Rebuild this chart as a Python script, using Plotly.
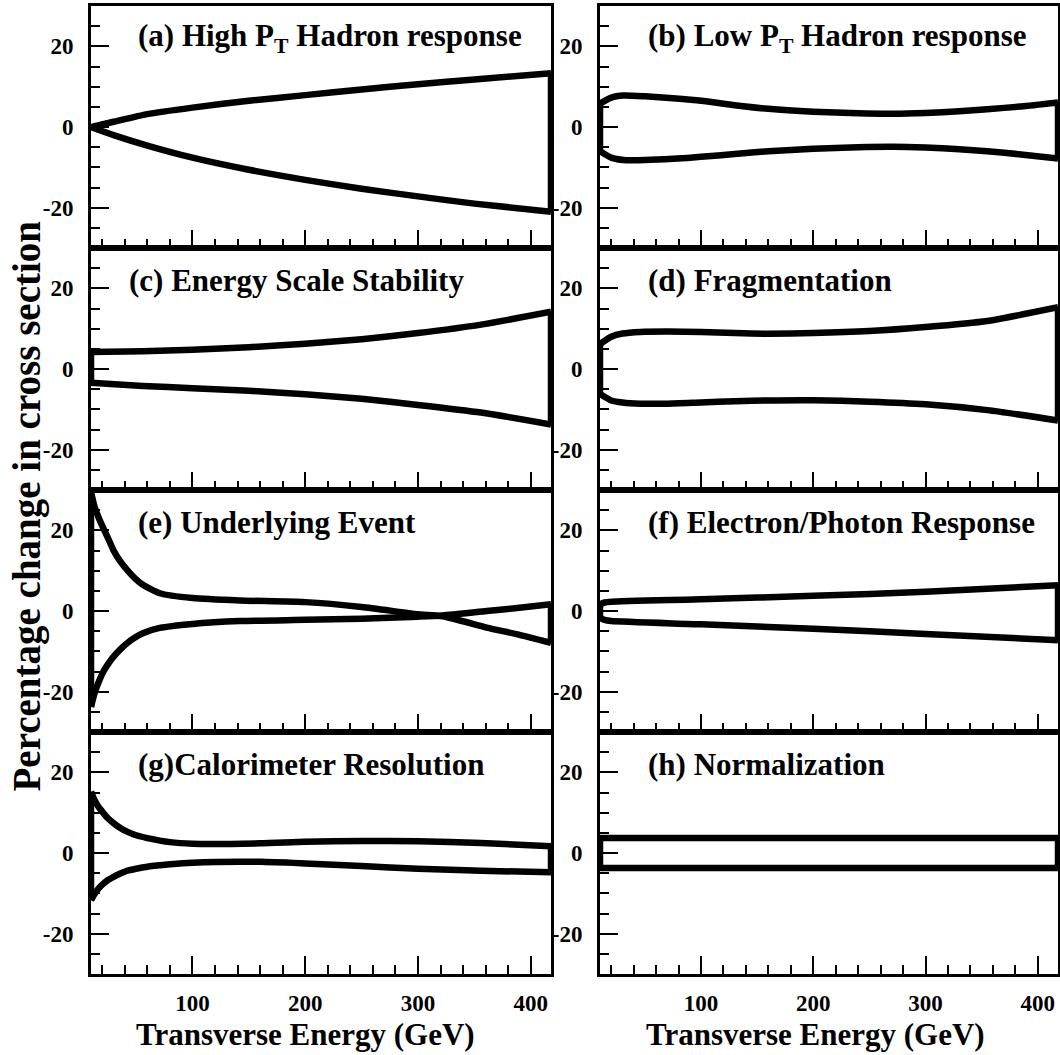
import plotly.graph_objects as go

# ---------------- data ----------------
titles = [
    "(a) High P<sub>T</sub> Hadron response",
    "(b) Low P<sub>T</sub> Hadron response",
    "(c) Energy Scale Stability",
    "(d) Fragmentation",
    "(e) Underlying Event",
    "(f) Electron/Photon Response",
    "(g)Calorimeter Resolution",
    "(h) Normalization",
]

a_x = [10, 30, 60, 100, 150, 200, 250, 300, 350, 418]
a_up = [0, 1.3, 3.2, 4.8, 6.5, 7.9, 9.3, 10.6, 11.8, 13.3]
a_lo = [0, -2.0, -4.6, -7.6, -10.6, -13.1, -15.3, -17.2, -19.0, -21.0]

b_x = [10, 20, 31, 50, 75, 100, 130, 160, 200, 240, 271, 300, 330, 355, 385, 418]
b_up = [5.8, 7.3, 7.8, 7.6, 7.1, 6.5, 5.4, 4.5, 3.8, 3.4, 3.3, 3.5, 3.9, 4.4, 5.1, 6.1]
b_lo = [-6.0, -7.6, -8.2, -8.2, -7.9, -7.4, -6.7, -6.0, -5.4, -5.0, -4.9, -5.1, -5.5, -6.0, -6.8, -7.8]

c_x = [10, 56, 100, 150, 200, 250, 300, 356, 418]
c_up = [4.2, 4.4, 4.75, 5.4, 6.25, 7.4, 8.9, 11.0, 14.2]
c_lo = [-3.4, -4.2, -4.75, -5.4, -6.25, -7.4, -8.9, -10.8, -13.75]

d_x = [10, 20, 30, 46, 70, 100, 130, 160, 200, 250, 300, 355, 418]
d_up = [6.2, 8.0, 8.8, 9.2, 9.3, 9.2, 8.9, 8.75, 8.9, 9.4, 10.4, 11.9, 15.3]
d_lo = [-6.2, -7.8, -8.3, -8.6, -8.6, -8.3, -8.0, -7.8, -7.75, -8.1, -8.75, -10.2, -12.75]

e_x = [10, 13, 17, 21, 26, 30, 36, 42, 49, 56, 71, 100, 142, 200, 250, 300, 322, 361, 390, 418]
e_up = [29.5, 26.0, 23.0, 20.5, 17.5, 15.0, 12.3, 10.2, 8.1, 6.5, 4.4, 3.2, 2.6, 2.2, 1.0, -0.8, -1.3, -4.1, -5.9, -7.9]
e_lo = [-23.8, -20.5, -17.5, -15.0, -12.8, -11.3, -9.5, -8.0, -6.6, -5.5, -4.2, -3.2, -2.5, -2.2, -1.9, -1.4, -1.1, 0.0, 0.8, 1.7]

f_x = [10, 14, 20, 100, 200, 300, 418]
f_up = [1.7, 2.1, 2.3, 2.9, 3.75, 4.75, 6.4]
f_lo = [-1.7, -2.2, -2.5, -3.3, -4.4, -5.7, -7.25]

g_x = [10, 13, 17, 21, 25, 30, 36, 42, 50, 60, 80, 100, 160, 200, 250, 300, 356, 418]
g_up = [15.2, 13.2, 11.3, 9.9, 8.6, 7.4, 6.2, 5.3, 4.4, 3.7, 2.7, 2.3, 2.4, 2.8, 3.0, 2.9, 2.5, 1.7]
g_lo = [-11.7, -10.2, -8.7, -7.6, -6.7, -5.9, -5.1, -4.4, -3.9, -3.4, -2.8, -2.4, -2.2, -2.6, -3.25, -3.9, -4.4, -4.8]

h_x = [10, 418]
h_up = [3.7, 3.7]
h_lo = [-3.7, -3.7]

x_range = [10, 418]
y_range = [-30, 30]
x_tickvals = [100, 200, 300, 400]
x_ticktext = ["100", "200", "300", "400"]
y_tickvals = [-20, 0, 20]
y_ticktext = ["-20", "0", "20"]
x_title = "Transverse Energy (GeV)"
y_title = "Percentage change in cross section"

panels = [
    (a_x, a_up, a_lo), (b_x, b_up, b_lo),
    (c_x, c_up, c_lo), (d_x, d_up, d_lo),
    (e_x, e_up, e_lo), (f_x, f_up, f_lo),
    (g_x, g_up, g_lo), (h_x, h_up, h_lo),
]

# ---------------- layout geometry ----------------
W, H = 1060, 1055
COLS = [(91, 551), (600, 1058)]
ROW_TOPS = [6, 248, 490, 732]
ROW_H = 242
FONT = "Liberation Serif, Times New Roman, Times, serif"
title_x = [[136, 645.6], [127, 645.6], [136, 645.6], [136, 645.6]]


def bold(s):
    return "<b>" + s + "</b>"


fig = go.Figure()
annotations = []
layout_axes = {}

for i, (px, pu, pl) in enumerate(panels):
    r, c = divmod(i, 2)
    n = i + 1
    xref = "x" if n == 1 else f"x{n}"
    yref = "y" if n == 1 else f"y{n}"
    line = dict(color="black", width=6.5)
    fig.add_trace(go.Scatter(x=px, y=pu, mode="lines", xaxis=xref, yaxis=yref,
                             line=dict(line, shape="spline", smoothing=0.6), showlegend=False))
    fig.add_trace(go.Scatter(x=px, y=pl, mode="lines", xaxis=xref, yaxis=yref,
                             line=dict(line, shape="spline", smoothing=0.6), showlegend=False))
    fig.add_trace(go.Scatter(x=[px[0], px[0]], y=[pu[0], pl[0]], mode="lines",
                             xaxis=xref, yaxis=yref, line=line, showlegend=False))
    fig.add_trace(go.Scatter(x=[px[-1], px[-1]], y=[pu[-1], pl[-1]], mode="lines",
                             xaxis=xref, yaxis=yref, line=line, showlegend=False))

    c0, c1 = COLS[c]
    top = ROW_TOPS[r]
    tickfont = dict(family=FONT, size=23, color="black")
    common = dict(showline=True, mirror=True, linewidth=3, linecolor="black",
                  ticks="inside", ticklen=18, tickwidth=2, tickcolor="black",
                  showgrid=False, zeroline=False, tickfont=tickfont, fixedrange=True)
    layout_axes["xaxis" if n == 1 else f"xaxis{n}"] = dict(
        common, domain=[c0 / W, c1 / W], range=x_range, anchor=yref,
        tickmode="array", tickvals=x_tickvals, ticktext=[bold(t) for t in x_ticktext],
        showticklabels=(r == 3), ticklabelstandoff=6,
        minor=dict(ticks="inside", ticklen=9, tickwidth=2, tickcolor="black",
                   tick0=0, dtick=20))
    layout_axes["yaxis" if n == 1 else f"yaxis{n}"] = dict(
        common, domain=[1 - (top + ROW_H) / H, 1 - top / H], range=y_range, anchor=xref,
        tickmode="array", tickvals=y_tickvals, ticktext=[bold(t) for t in y_ticktext],
        ticklabelstandoff=10,
        minor=dict(ticks="inside", ticklen=9, tickwidth=2, tickcolor="black",
                   tick0=0, dtick=5))

    annotations.append(dict(
        text=bold(titles[i]), xref="paper", yref="paper",
        x=title_x[r][c] / W, y=1 - (top + 32) / H,
        xanchor="left", yanchor="middle", showarrow=False,
        font=dict(family=FONT, size=31, color="black")))

for cx in (305, 815):
    annotations.append(dict(
        text=bold(x_title), xref="paper", yref="paper", x=cx / W, y=1 - 1034 / H,
        xanchor="center", yanchor="middle", showarrow=False,
        font=dict(family=FONT, size=31, color="black")))

annotations.append(dict(
    text=bold(y_title), xref="paper", yref="paper", x=26 / W, y=1 - 506.5 / H,
    xanchor="center", yanchor="middle", textangle=-90, showarrow=False,
    font=dict(family=FONT, size=39, color="black")))

fig.update_layout(
    width=W, height=H, autosize=False,
    margin=dict(l=0, r=0, t=0, b=0, pad=0),
    paper_bgcolor="white", plot_bgcolor="white",
    annotations=annotations, showlegend=False,
    **layout_axes,
)

fig.write_html("out.html", config={"displayModeBar": False},
               post_script="document.body.style.margin='0px';")
